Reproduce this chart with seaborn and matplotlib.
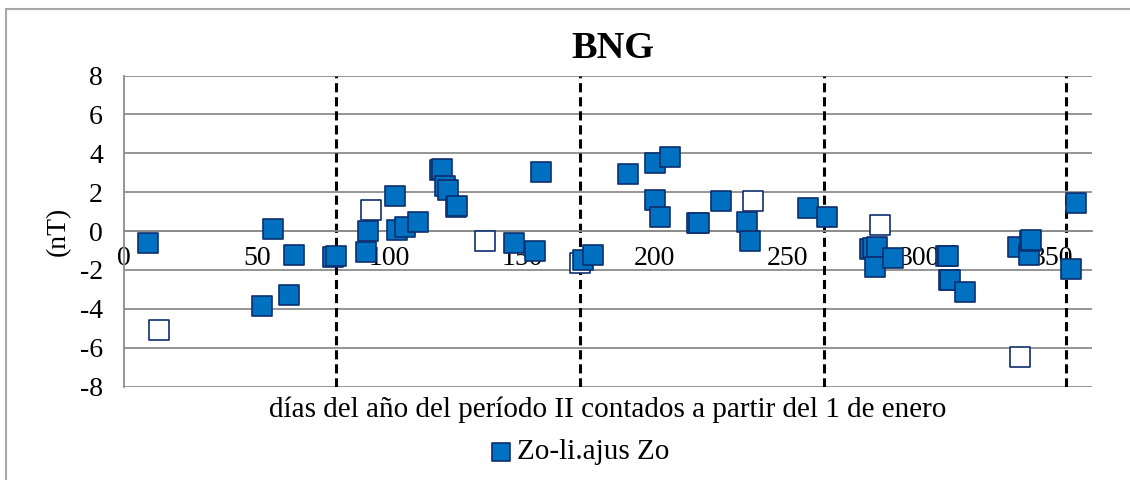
import matplotlib
matplotlib.use('Agg')
import matplotlib.pyplot as plt
import seaborn as sns
import pandas as pd
from matplotlib.patches import Rectangle

# Day of year and Zo residual (nT)
days = [9, 52, 56, 62, 64, 78.8, 79.8, 91, 92, 102, 102.7, 105.8, 110.9,
        119, 119.7, 120.9, 122, 125, 125.6, 147, 155, 157, 173, 176.8,
        190, 200, 206, 200, 202, 216, 216.7, 225, 235, 236, 258, 265,
        281.2, 282.5, 284, 283, 290, 310, 310.7, 311, 311.6, 317, 337,
        341.3, 341.5, 342, 357, 359]
zo = [-0.62, -3.85, 0.13, -3.3, -1.24, -1.34, -1.26, -1.07, 0.0, 1.8, 0.05,
      0.2, 0.47, 3.15, 3.18, 2.33, 2.12, 1.25, 1.3, -0.62, -1.0, 3.06, -1.48,
      -1.22, 2.92, 3.49, 3.83, 1.6, 0.73, 0.4, 0.42, 1.55, 0.46, -0.49, 1.19,
      0.75, -0.9, -0.85, -0.8, -1.83, -1.4, -1.3, -1.28, -2.5, -2.52, -3.11,
      -0.8, -1.22, -0.5, -0.45, -1.96, 1.47]

# points drawn as hollow squares (no legend entry)
days_open = [13, 93, 136, 171.8, 237, 285, 338]
zo_open = [-5.08, 1.09, -0.5, -1.65, 1.55, 0.3, -6.45]

# dashed separators between periods
season_days = [80, 172, 264, 355]

df = pd.DataFrame({'day': days, 'zo': zo})
df_open = pd.DataFrame({'day': days_open, 'zo': zo_open})

sns.set_style('white')
plt.rcParams['font.family'] = ['Liberation Serif', 'DejaVu Serif']
plt.rcParams['axes.unicode_minus'] = False
plt.rcParams['text.color'] = 'black'
plt.rcParams['axes.labelcolor'] = 'black'
plt.rcParams['xtick.labelcolor'] = 'black'
plt.rcParams['ytick.labelcolor'] = 'black'

fig = plt.figure(figsize=(11.3, 4.8), dpi=100)
ax = fig.add_axes([0.110, 0.1944, 0.8564, 0.6483])

fill = '#0070C0'
edge = '#0D2F6E'
grid = '#8C8C8C'

for d in season_days:
    ax.axvline(d, color='black', linestyle=(0, (3, 1.6)), linewidth=2.2, zorder=1)

sns.scatterplot(data=df_open, x='day', y='zo', marker='s', s=200,
                color='white', edgecolor=edge, linewidth=1.2, ax=ax,
                legend=False, zorder=3)
sns.scatterplot(data=df, x='day', y='zo', marker='s', s=200,
                color=fill, edgecolor=edge, linewidth=1.2, ax=ax,
                label='Zo-li.ajus Zo', zorder=4)

ax.set_xlim(0, 365)
ax.set_ylim(-8, 8)
ax.set_xticks(range(0, 351, 50))
ax.set_yticks(range(-8, 9, 2))
ax.yaxis.grid(True, color=grid, linewidth=1.3)
ax.set_axisbelow(True)

for s in ['top', 'right']:
    ax.spines[s].set_visible(False)
ax.spines['left'].set_color(grid)
ax.spines['left'].set_linewidth(1.3)
ax.spines['bottom'].set_position(('data', 0))
ax.spines['bottom'].set_color(grid)
ax.spines['bottom'].set_linewidth(1.3)
ax.tick_params(axis='both', direction='out', length=5.5, width=1.3,
               color=grid, labelsize=20, pad=5)
ax.tick_params(axis='y', pad=10)

ax.set_xlabel('')
ax.set_ylabel('(nT)', fontsize=20, labelpad=6)

fig.text(613 / 1130, 1 - 49 / 480, 'BNG', fontsize=27.5, fontweight='bold',
         ha='center', va='center')
fig.text(608 / 1130, 1 - 417 / 480,
         'días del año del período II contados a partir del 1 de enero',
         fontsize=21, ha='center', va='baseline')

ax.legend(loc='center', bbox_to_anchor=(579 / 1130, 1 - 452 / 480),
          bbox_transform=fig.transFigure, frameon=False, fontsize=21,
          handlelength=0.8, handletextpad=0.15, markerscale=0.9, borderpad=0)

fig.patches.append(Rectangle((6 / 1130, -0.1), 2, 1.1 - 9 / 480,
                             transform=fig.transFigure, fill=False,
                             edgecolor='#A6A6A6', linewidth=1.5))

fig.savefig('out.png', dpi=100)
